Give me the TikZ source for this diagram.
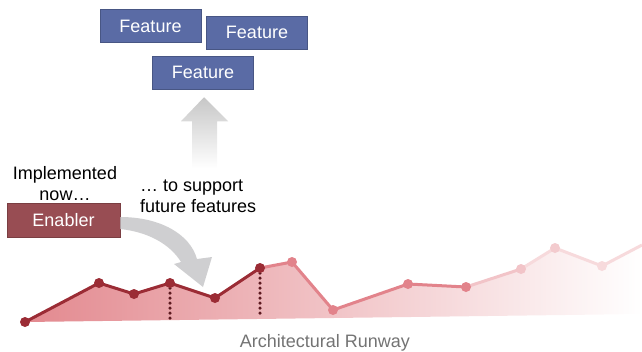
\documentclass[tikz,border=0pt]{standalone}
\usepackage{fontspec}
\setmainfont{Liberation Sans}
\usetikzlibrary{calc}
\definecolor{featblue}{HTML}{5A6BA5}
\definecolor{enabred}{HTML}{984D53}
\definecolor{rundark}{HTML}{9B2C35}
\definecolor{runmid}{HTML}{E2838B}
\definecolor{runlight}{HTML}{F2C4C8}
\definecolor{runpale}{HTML}{F7DADC}
\definecolor{runfill}{HTML}{E3898F}
\definecolor{arrowgray}{HTML}{CFCFD1}
\tikzstyle{box}=[rectangle,draw=#1!80!black,line width=0.5pt,fill=#1,text=white,inner sep=0pt,font=\fontsize{18}{21}\selectfont]
\tikzstyle{feature}=[box=featblue,minimum width=101pt,minimum height=33pt]
\tikzstyle{enabler}=[box=enabred,minimum width=113pt,minimum height=34pt]
\tikzstyle{label}=[inner sep=0pt,font=\fontsize{18}{21}\selectfont]
\tikzstyle{dot}=[circle,fill=#1,inner sep=0pt,minimum size=10pt]
\tikzstyle{run}=[line width=3pt,draw=#1,line join=round]
\tikzstyle{dotline}=[draw=rundark!60!black,line width=3.5pt,line cap=round,dash pattern=on 0pt off 5pt]

\begin{document}
\begin{tikzpicture}[x=1pt,y=-1pt]
\useasboundingbox (0,0) rectangle (642,351);
% runway points
\path (25,322) coordinate (p0) (99,283) coordinate (p1) (134,294) coordinate (p2)
      (170,283) coordinate (p3) (215,298) coordinate (p4) (260,268) coordinate (p5)
      (292,262) coordinate (p6) (333,310) coordinate (p7) (408,284) coordinate (p8)
      (466,287) coordinate (p9) (521,269) coordinate (p10) (555,248) coordinate (p11)
      (602,266) coordinate (p12) (642,245) coordinate (p13)
      (170,318) coordinate (b3) (260,317) coordinate (b5) (642,314) coordinate (b13);
\shade[left color=runfill,right color=white] (p0) -- (p1) -- (p2) -- (p3) -- (p4) -- (p5)
      -- (p6) -- (p7) -- (p8) -- (p9) -- (p10) -- (p11) -- (p12) -- (p13) -- (b13) -- cycle;
\draw[dotline] (p3) -- (b3);
\draw[dotline] (p5) -- (b5);
\draw[run=runpale] (p10) -- (p11) -- (p12) -- (p13);
\draw[run=runlight] (p9) -- (p10);
\draw[run=runmid] (p5) -- (p6) -- (p7) -- (p8) -- (p9);
\draw[run=rundark] (p0) -- (p1) -- (p2) -- (p3) -- (p4) -- (p5);
\foreach \p in {0,...,5} \node[dot=rundark] (d\p) at (p\p) {};
\foreach \p in {6,...,9} \node[dot=runmid] (d\p) at (p\p) {};
\node[dot=runlight] (d10) at (p10) {};
\node[dot=runlight!70!runpale] (d11) at (p11) {};
\node[dot=runpale] (d12) at (p12) {};
\node[text=black!55,label,anchor=base] (runway) at (325,347) {Architectural Runway};

% features and enabler
\node[feature] (f1) at (150.5,26) {Feature};
\node[feature] (f2) at (257,32.5) {Feature};
\node[feature] (f3) at (203,72.5) {Feature};
\node[enabler] (en) at (63.5,220) {Enabler};
\coordinate (tip) at (203,287);
\fill[arrowgray] ($(en.east)+(0,-3)$) .. controls (160,217) and (190,234) .. ($(tip)+(-6,-28)$)
      -- ($(tip)+(9,-30)$) -- (tip) -- ($(tip)+(-29,-23)$) -- ($(tip)+(-22,-25)$)
      .. controls (170,244) and (148,232) .. ($(en.east)+(0,9)$) -- cycle;
\shade[top color=black!22,middle color=black!16,bottom color=white]
      ($(f3.south)+(-11,79)$) -- ($(f3.south)+(-11,32)$) -- ($(f3.south)+(-22,32)$)
      -- ($(f3.south)+(1,8)$) -- ($(f3.south)+(25,32)$) -- ($(f3.south)+(14,32)$)
      -- ($(f3.south)+(14,79)$) -- cycle;
\node[label,align=center,anchor=north] (now) at (65,166) {Implemented\\now\ldots};
\node[label,align=left,anchor=north west] (future) at (140,179.5) {\ldots\ to support\\future features};
\end{tikzpicture}
\end{document}
